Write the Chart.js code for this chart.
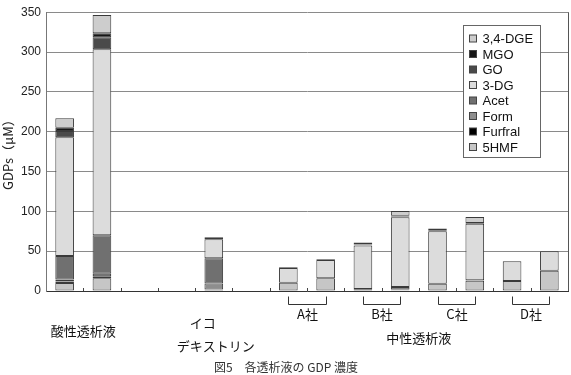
<!DOCTYPE html>
<html>
<head>
<meta charset="utf-8">
<script src="https://cdn.jsdelivr.net/npm/chart.js@4"></script>
<style>
  html, body { margin: 0; padding: 0; background: #fff; }
  #wrap { width: 571px; height: 375px; }
</style>
</head>
<body>
<div id="wrap"><canvas id="chart" width="571" height="375"></canvas></div>
<script>
// categories (one slot per bar position, some empty)
const slots = ["acid1", "acid2", "gap1", "gap2", "ico", "gap3", "A1", "A2", "B1", "B2", "C1", "C2", "D1", "D2"];

// series, bottom of the stack first
const hmf5   = [10,   16,    null, null, 1.5,  null, 10.5, 16,  0.5,  1,    9,    13,   12.5, 25.5];
const furfral= [2,    2.5,   null, null, 0.5,  null, null, null, null, null, null, null, null, null];
const form   = [2.5,  3,     null, null, 7.5,  null, null, null, 1,    1,    null, null, null, null];
const acet   = [29.5, 48.5,  null, null, 31.5, null, null, null, 1,    3,    null, 0.5,  null, null];
const dg3    = [149,  233.5, null, null, 24,   null, 18.5, 23,  54.5, 87.5, 66,   71,   25,   24.5];
const go     = [8,    15,    null, null, null, null, null, null, 0.5,  1,    0.5,  null, null, null];
const mgo    = [4,    5,     null, null, 2.5,  null, 0.7,  1,   1,    1,    1,    1,    null, 0.3];
const dge34  = [12,   23,    null, null, null, null, null, null, 2.5,  6,    2,    7.5,  null, null];

const yTicks = [0, 50, 100, 150, 200, 250, 300, 350];

// group labels under the axis
const companies = ["A社", "B社", "C社", "D社"];
const companyStart = [6, 8, 10, 12];

const SERIES = [
  { label: "5HMF",    data: hmf5,    color: "#c6c6c6" },
  { label: "Furfral", data: furfral, color: "#000000" },
  { label: "Form",    data: form,    color: "#8e8e8e" },
  { label: "Acet",    data: acet,    color: "#707070" },
  { label: "3-DG",    data: dg3,     color: "#dcdcdc" },
  { label: "GO",      data: go,      color: "#4a4a4a" },
  { label: "MGO",     data: mgo,     color: "#161616" },
  { label: "3,4-DGE", data: dge34,   color: "#cdcdcd" },
];

const FONT = "Arial, 'Liberation Sans', sans-serif";
const JP = "'Noto Sans CJK JP', sans-serif";

// ==================
//  extras: ticks, brackets, labels, legend
// ==================
const extras = {
  id: "extras",
  afterDraw(chart) {
    const ctx = chart.ctx;
    const x = chart.scales.x;
    const area = chart.chartArea;
    const step = x.getPixelForValue(1) - x.getPixelForValue(0);
    const edge = (i) => x.getPixelForValue(i) - step / 2;
    ctx.save();

    // right border
    ctx.strokeStyle = "#555";
    ctx.lineWidth = 1;
    ctx.beginPath();
    ctx.moveTo(Math.round(area.right) + 0.5, area.top);
    ctx.lineTo(Math.round(area.right) + 0.5, area.bottom);
    ctx.stroke();

    // small category ticks, pointing up
    ctx.strokeStyle = "#444";
    for (let i = 1; i < slots.length; i++) {
      const px = Math.round(edge(i)) + 0.5;
      ctx.beginPath();
      ctx.moveTo(px, area.bottom - 3);
      ctx.lineTo(px, area.bottom);
      ctx.stroke();
    }

    // company brackets
    ctx.strokeStyle = "#333";
    ctx.fillStyle = "#111";
    ctx.font = "13px " + JP;
    ctx.textAlign = "center";
    ctx.textBaseline = "middle";
    companies.forEach((name, k) => {
      const x1 = Math.round(x.getPixelForValue(companyStart[k])) + 0.5;
      const x2 = Math.round(x.getPixelForValue(companyStart[k] + 1)) + 0.5;
      const yb = Math.round(area.bottom) + 13.5;
      ctx.beginPath();
      ctx.moveTo(x1, yb - 8);
      ctx.lineTo(x1, yb);
      ctx.lineTo(x2, yb);
      ctx.lineTo(x2, yb - 8);
      ctx.stroke();
      ctx.fillText(name, (x1 + x2) / 2, area.bottom + 23);
    });

    // big group names
    const mid = (a, b) => (x.getPixelForValue(a) + x.getPixelForValue(b)) / 2;
    ctx.fillText("酸性透析液", mid(0, 1), area.bottom + 40);
    ctx.fillText("イコ", x.getPixelForValue(4) - 11, area.bottom + 32);
    ctx.fillText("デキストリン", x.getPixelForValue(4) + 2, area.bottom + 55);
    ctx.fillText("中性透析液", mid(6, 13), area.bottom + 47);

    // caption
    ctx.font = "12px " + JP;
    ctx.fillStyle = "#333";
    ctx.fillText("図5　各透析液の GDP 濃度", 286, area.bottom + 76);

    // legend inside plot
    const bx = Math.round(area.right) - 104.5, by = Math.round(area.top) + 13.5;
    ctx.fillStyle = "#fff";
    ctx.fillRect(bx, by, 77, 132);
    ctx.strokeStyle = "#666";
    ctx.strokeRect(bx, by, 77, 132);
    ctx.font = "13px " + FONT;
    ctx.textAlign = "left";
    const ds = chart.data.datasets.slice().reverse();
    ds.forEach((d, k) => {
      const cy = by + 13 + k * 15.5;
      ctx.fillStyle = d.backgroundColor;
      ctx.fillRect(bx + 6, cy - 3.5, 7, 7);
      ctx.strokeStyle = "#444";
      ctx.strokeRect(bx + 6, cy - 3.5, 7, 7);
      ctx.fillStyle = "#111";
      ctx.fillText(d.label, bx + 19, cy + 1);
    });
    ctx.restore();
  }
};

new Chart(document.getElementById("chart"), {
  type: "bar",
  data: {
    labels: slots,
    datasets: SERIES.map((s) => ({
      label: s.label,
      data: s.data,
      backgroundColor: s.color,
      borderColor: "#3a3a3a",
      borderWidth: 1,
      borderSkipped: false,
      barPercentage: 0.5,
      categoryPercentage: 1,
    })),
  },
  options: {
    responsive: false,
    animation: false,
    layout: { padding: { top: 12, right: 3, bottom: 84, left: 0 } },
    plugins: { legend: { display: false }, tooltip: { enabled: false } },
    scales: {
      x: {
        stacked: true,
        ticks: { display: false },
        grid: { display: false },
        border: { color: "#333" },
        afterFit: (s) => { s.height = 0; },
      },
      y: {
        stacked: true,
        min: 0,
        max: 350,
        afterBuildTicks: (s) => { s.ticks = yTicks.map((v) => ({ value: v })); },
        ticks: { color: "#222", padding: 5, font: { size: 12, family: FONT } },
        grid: { color: "#8a8a8a", drawTicks: false },
        border: { color: "#777" },
        title: { display: true, text: "GDPs（μM）", color: "#222", padding: 0, font: { size: 13, family: JP } },
        afterFit: (s) => { s.width = 46; },
      },
    },
  },
  plugins: [extras],
});
</script>
</body>
</html>
